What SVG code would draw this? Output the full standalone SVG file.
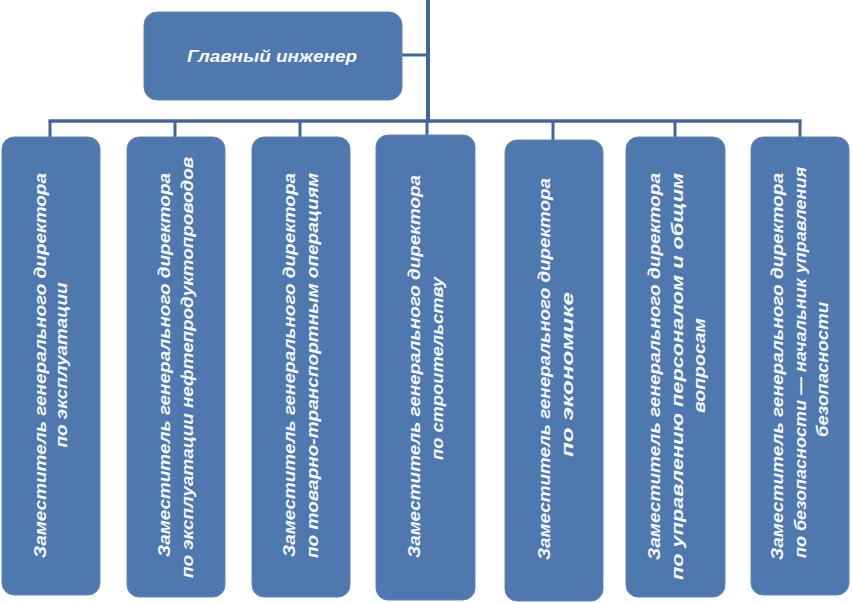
<svg xmlns="http://www.w3.org/2000/svg" width="852" height="603" viewBox="0 0 852 603">
<style>
.box{fill:#4f79ae;stroke:#6186b8;stroke-width:1}
.ln{stroke:#3f679b;fill:none;stroke-linecap:butt}
.t{fill:#f5f7fb;font-family:"Liberation Sans",Arial,sans-serif;font-weight:bold;font-style:italic;font-size:17px;text-anchor:middle}
.h{font-size:17px}
</style>
<rect width="852" height="603" fill="#ffffff"/>
<g id="connectors">
<line class="ln" x1="428" y1="0" x2="428" y2="123" stroke-width="4"/>
<line class="ln" x1="402" y1="55" x2="428" y2="55" stroke-width="3"/>
<line class="ln" x1="48.5" y1="121" x2="801.5" y2="121" stroke-width="3.5"/>
<line class="ln" x1="50" y1="121" x2="50" y2="137" stroke-width="3"/>
<line class="ln" x1="175" y1="121" x2="175" y2="137" stroke-width="3"/>
<line class="ln" x1="300" y1="121" x2="300" y2="137" stroke-width="3"/>
<line class="ln" x1="427" y1="121" x2="427" y2="135" stroke-width="3"/>
<line class="ln" x1="553" y1="121" x2="553" y2="140" stroke-width="3"/>
<line class="ln" x1="675" y1="121" x2="675" y2="137" stroke-width="3"/>
<line class="ln" x1="800" y1="121" x2="800" y2="137" stroke-width="3"/>
</g>
<g id="chief">
<rect class="box" x="144" y="12" width="258" height="88" rx="13"/>
<text class="t h" x="272" y="62" textLength="170" lengthAdjust="spacingAndGlyphs">Главный инженер</text>
</g>
<g id="dep1">
<rect class="box" x="2" y="137" width="98" height="458" rx="12"/>
<text class="t" transform="translate(46,365.5) rotate(-90)" textLength="385" lengthAdjust="spacingAndGlyphs">Заместитель генерального директора</text>
<text class="t" transform="translate(67,365) rotate(-90)" textLength="165" lengthAdjust="spacingAndGlyphs">по эксплуатации</text>
</g>
<g id="dep2">
<rect class="box" x="127" y="137" width="98" height="460" rx="12"/>
<text class="t" transform="translate(170,365) rotate(-90)" textLength="384" lengthAdjust="spacingAndGlyphs">Заместитель генерального директора</text>
<text class="t" transform="translate(193,367.5) rotate(-90)" textLength="421" lengthAdjust="spacingAndGlyphs">по эксплуатации нефтепродуктопроводов</text>
</g>
<g id="dep3">
<rect class="box" x="252" y="137" width="98" height="460" rx="12"/>
<text class="t" transform="translate(295,365) rotate(-90)" textLength="384" lengthAdjust="spacingAndGlyphs">Заместитель генерального директора</text>
<text class="t" transform="translate(318,365.5) rotate(-90)" textLength="385" lengthAdjust="spacingAndGlyphs">по товарно-транспортным операциям</text>
</g>
<g id="dep4">
<rect class="box" x="376" y="135" width="99" height="465" rx="12"/>
<text class="t" transform="translate(420,366.5) rotate(-90)" textLength="383" lengthAdjust="spacingAndGlyphs">Заместитель генерального директора</text>
<text class="t" transform="translate(443,368.5) rotate(-90)" textLength="183" lengthAdjust="spacingAndGlyphs">по строительству</text>
</g>
<g id="dep5">
<rect class="box" x="505" y="140" width="98" height="461" rx="12"/>
<text class="t" transform="translate(550,369) rotate(-90)" textLength="382" lengthAdjust="spacingAndGlyphs">Заместитель генерального директора</text>
<text class="t" transform="translate(573,374.5) rotate(-90)" textLength="165" lengthAdjust="spacingAndGlyphs">по экономике</text>
</g>
<g id="dep6">
<rect class="box" x="626" y="137" width="99" height="460" rx="12"/>
<text class="t" transform="translate(660,366.5) rotate(-90)" textLength="387" lengthAdjust="spacingAndGlyphs">Заместитель генерального директора</text>
<text class="t" transform="translate(683,376.5) rotate(-90)" textLength="407" lengthAdjust="spacingAndGlyphs">по управлению персоналом и общим</text>
<text class="t" transform="translate(705,365.5) rotate(-90)" textLength="95" lengthAdjust="spacingAndGlyphs">вопросам</text>
</g>
<g id="dep7">
<rect class="box" x="751" y="137" width="98" height="458" rx="12"/>
<text class="t" transform="translate(783,366.5) rotate(-90)" textLength="387" lengthAdjust="spacingAndGlyphs">Заместитель генерального директора</text>
<text class="t" transform="translate(806,362.5) rotate(-90)" textLength="391" lengthAdjust="spacingAndGlyphs">по безопасности — начальник управления</text>
<text class="t" transform="translate(828,369.5) rotate(-90)" textLength="135" lengthAdjust="spacingAndGlyphs">безопасности</text>
</g>
</svg>
